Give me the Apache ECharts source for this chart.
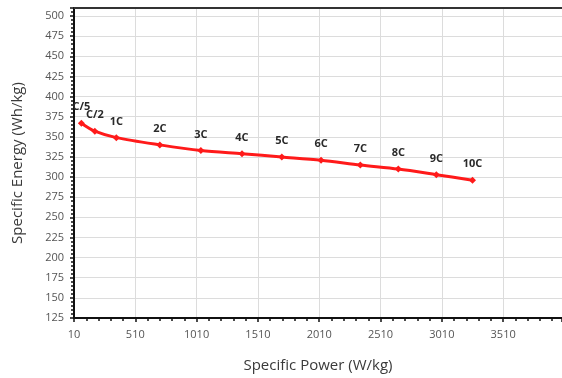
<!DOCTYPE html>
<html><head><meta charset="utf-8">
<script src="https://cdn.jsdelivr.net/npm/echarts@6/dist/echarts.min.js"></script>
<style>html,body{margin:0;padding:0;background:#fff}#c{width:562px;height:378px}</style>
</head><body><div id="c"></div>
<script>
const rates = ['C/5','C/2','1C','2C','3C','4C','5C','6C','7C','8C','9C','10C'];
const power = [70, 180, 355, 710, 1045, 1380, 1705, 2025, 2345, 2655, 2965, 3260];
const energy = [367, 357, 349, 340, 333, 329, 325, 321, 315, 310, 303, 296];
const xTicks = [10, 510, 1010, 1510, 2010, 2510, 3010, 3510];
const yTicks = [125,150,175,200,225,250,275,300,325,350,375,400,425,450,475,500];

const font = 'Open Sans, Noto Sans, sans-serif';
const chart = echarts.init(document.getElementById('c'));
chart.setOption({
  animation: false,
  grid: {left: 74, right: 0, top: 8, bottom: 59},
  xAxis: [{
    type: 'value', min: 10, max: 3990, interval: 500,
    name: 'Specific Power (W/kg)', nameLocation: 'middle', nameGap: 40,
    nameTextStyle: {color: '#3a3a3a', fontSize: 15, fontFamily: font},
    axisLine: {show: true, lineStyle: {color: '#111', width: 2}},
    axisTick: {show: true, length: 4, inside: false, lineStyle: {color: '#111', width: 1.5}},
    minorTick: {show: true, splitNumber: 5, length: 3, lineStyle: {color: '#111', width: 1.5}},
    axisLabel: {color: '#555', fontSize: 11, fontFamily: font, margin: 11, showMaxLabel: false,
      formatter: v => xTicks.includes(v) ? String(v) : ''},
    splitLine: {show: true, lineStyle: {color: '#dcdcdc', width: 1}}
  }, {
    type: 'value', position: 'top', min: 10, max: 3990,
    axisLine: {show: true, lineStyle: {color: '#333', width: 2}},
    axisTick: {show: false}, axisLabel: {show: false}, splitLine: {show: false}
  }],
  yAxis: {
    type: 'value', min: 125, max: 510, interval: 25,
    name: 'Specific Energy (Wh/kg)', nameLocation: 'middle', nameGap: 49,
    nameTextStyle: {color: '#3a3a3a', fontSize: 15, fontFamily: font},
    axisLine: {show: true, lineStyle: {color: '#111', width: 2}},
    axisTick: {show: true, length: 4, lineStyle: {color: '#111', width: 1.5}},
    minorTick: {show: true, splitNumber: 5, length: 3, lineStyle: {color: '#111', width: 1.5}},
    axisLabel: {color: '#555', fontSize: 11, fontFamily: font, margin: 10, showMaxLabel: false,
      formatter: v => yTicks.includes(v) ? String(v) : ''},
    splitLine: {show: true, lineStyle: {color: '#dcdcdc', width: 1}}
  },
  series: [{
    type: 'line', smooth: 0.3,
    data: power.map((p, i) => [p, energy[i]]),
    symbol: 'diamond', symbolSize: 7,
    lineStyle: {color: '#ff1a1a', width: 3},
    itemStyle: {color: '#ff1a1a'},
    label: {show: true, position: 'top', distance: 7, color: '#2a2a2a', fontSize: 11, fontWeight: 'bold', fontFamily: font,
      formatter: p => rates[p.dataIndex]}
  }]
});
</script></body></html>
